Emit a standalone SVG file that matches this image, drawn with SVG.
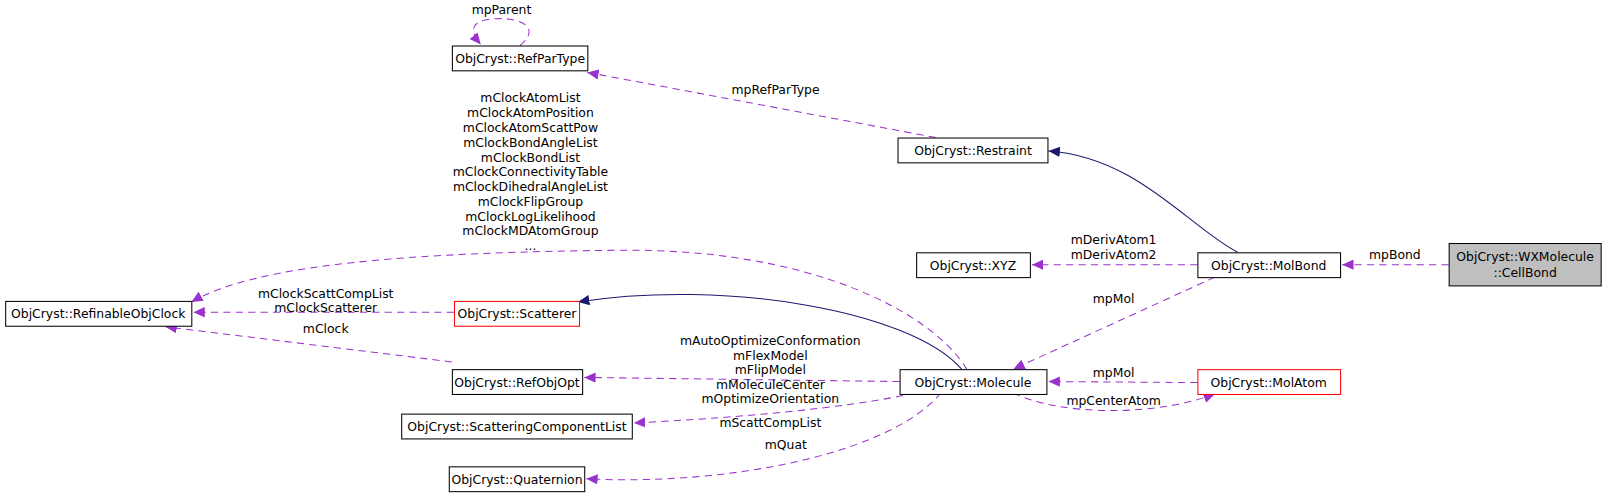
<svg xmlns="http://www.w3.org/2000/svg" width="1623" height="497" viewBox="0 0 1623 497">
<style>
text{font-family:"DejaVu Sans",sans-serif;font-size:12px;fill:#000}
.n rect{fill:#fff;stroke:#000;stroke-width:1}
.r rect{stroke:#f00}
.g rect{fill:#bfbfbf}
.n text{text-anchor:middle}
.e path{fill:none;stroke:#9a32cd;stroke-dasharray:7,5}
.e path.i{stroke:#191970;stroke-dasharray:none}
.l{text-anchor:middle}
</style>
<defs>
<marker id="ap" markerWidth="12" markerHeight="10" refX="11" refY="5" orient="auto" markerUnits="userSpaceOnUse"><path d="M0,0 L11,5 L0,10 z" fill="#9a32cd"/></marker>
<marker id="ai" markerWidth="12" markerHeight="10" refX="11" refY="5" orient="auto" markerUnits="userSpaceOnUse"><path d="M0,0 L11,5 L0,10 z" fill="#191970"/></marker>
</defs>
<rect width="1623" height="497" fill="#fff"/>
<g transform="scale(1.034)">
<g class="e">
<path d="M503,44 C525,25 500,18 485,18 C460,18 450,25 465,43" marker-end="url(#ap)"/>
<path d="M905,133 L568,70" marker-end="url(#ap)"/>
<path d="M1197,244 C1150,220 1100,152 1014,146" class="i" marker-end="url(#ai)"/>
<path d="M1158,256 L998,256" marker-end="url(#ap)"/>
<path d="M1401,256 L1298,256" marker-end="url(#ap)"/>
<path d="M1175,268 L980,357" marker-end="url(#ap)"/>
<path d="M1158,370 L1014,369" marker-end="url(#ap)"/>
<path d="M980,380 C1020,400 1110,405 1175,381" marker-end="url(#ap)"/>
<path d="M935,357 C900,300 780,240 600,242 C400,244 250,255 185,292" marker-end="url(#ap)"/>
<path d="M930,357 C880,300 700,270 559,292" class="i" marker-end="url(#ai)"/>
<path d="M439,302 L187,302" marker-end="url(#ap)"/>
<path d="M437,350 L160,316" marker-end="url(#ap)"/>
<path d="M870,369 L565,365" marker-end="url(#ap)"/>
<path d="M885,380 C820,395 700,405 613,409" marker-end="url(#ap)"/>
<path d="M910,380 C860,440 700,470 567,463" marker-end="url(#ap)"/>
</g>
<g class="e-labels">
<text class="l" x="485" y="14">mpParent</text>
<text class="l" x="750" y="91">mpRefParType</text>
<text class="l" x="513" y="99"><tspan x="513" dy="0">mClockAtomList</tspan><tspan x="513" dy="14.3">mClockAtomPosition</tspan><tspan x="513" dy="14.3">mClockAtomScattPow</tspan><tspan x="513" dy="14.3">mClockBondAngleList</tspan><tspan x="513" dy="14.3">mClockBondList</tspan><tspan x="513" dy="14.3">mClockConnectivityTable</tspan><tspan x="513" dy="14.3">mClockDihedralAngleList</tspan><tspan x="513" dy="14.3">mClockFlipGroup</tspan><tspan x="513" dy="14.3">mClockLogLikelihood</tspan><tspan x="513" dy="14.3">mClockMDAtomGroup</tspan><tspan x="513" dy="14.3">...</tspan></text>
<text class="l" x="1077" y="236"><tspan x="1077">mDerivAtom1</tspan><tspan x="1077" dy="14">mDerivAtom2</tspan></text>
<text class="l" x="1349" y="250">mpBond</text>
<text class="l" x="1077" y="293">mpMol</text>
<text class="l" x="1077" y="365">mpMol</text>
<text class="l" x="1077" y="392">mpCenterAtom</text>
<text class="l" x="315" y="288"><tspan x="315">mClockScattCompList</tspan><tspan x="315" dy="14">mClockScatterer</tspan></text>
<text class="l" x="315" y="322">mClock</text>
<text class="l" x="745" y="334"><tspan x="745">mAutoOptimizeConformation</tspan><tspan x="745" dy="14">mFlexModel</tspan><tspan x="745" dy="14">mFlipModel</tspan><tspan x="745" dy="14">mMoleculeCenter</tspan><tspan x="745" dy="14">mOptimizeOrientation</tspan></text>
<text class="l" x="745" y="413">mScattCompList</text>
<text class="l" x="760" y="434">mQuat</text>
</g>
<g id="RefParType" class="n"><rect x="437.5" y="44.5" width="131" height="24"/><text x="503" y="61">ObjCryst::RefParType</text></g>
<g id="Restraint" class="n"><rect x="868.5" y="133.5" width="145" height="24"/><text x="941" y="150">ObjCryst::Restraint</text></g>
<g id="XYZ" class="n"><rect x="886.5" y="244.5" width="110" height="24"/><text x="941" y="261">ObjCryst::XYZ</text></g>
<g id="MolBond" class="n"><rect x="1158.5" y="244.5" width="138" height="24"/><text x="1227" y="261">ObjCryst::MolBond</text></g>
<g id="CellBond" class="n g"><rect x="1401.5" y="235.5" width="147" height="41"/><text x="1475" y="252">ObjCryst::WXMolecule</text><text x="1475" y="268">::CellBond</text></g>
<g id="RefinableObjClock" class="n"><rect x="5.5" y="291.5" width="180" height="24"/><text x="95" y="308">ObjCryst::RefinableObjClock</text></g>
<g id="Scatterer" class="n r"><rect x="439.5" y="291.5" width="121" height="24"/><text x="500" y="308">ObjCryst::Scatterer</text></g>
<g id="RefObjOpt" class="n"><rect x="437.5" y="357.5" width="126" height="24"/><text x="500" y="374">ObjCryst::RefObjOpt</text></g>
<g id="Molecule" class="n"><rect x="870.5" y="357.5" width="142" height="24"/><text x="941" y="374">ObjCryst::Molecule</text></g>
<g id="MolAtom" class="n r"><rect x="1158.5" y="357.5" width="138" height="24"/><text x="1227" y="374">ObjCryst::MolAtom</text></g>
<g id="ScatteringComponentList" class="n"><rect x="388.5" y="400.5" width="223" height="24"/><text x="500" y="417">ObjCryst::ScatteringComponentList</text></g>
<g id="Quaternion" class="n"><rect x="434.5" y="451.5" width="131" height="24"/><text x="500" y="468">ObjCryst::Quaternion</text></g>
</g>
</svg>
